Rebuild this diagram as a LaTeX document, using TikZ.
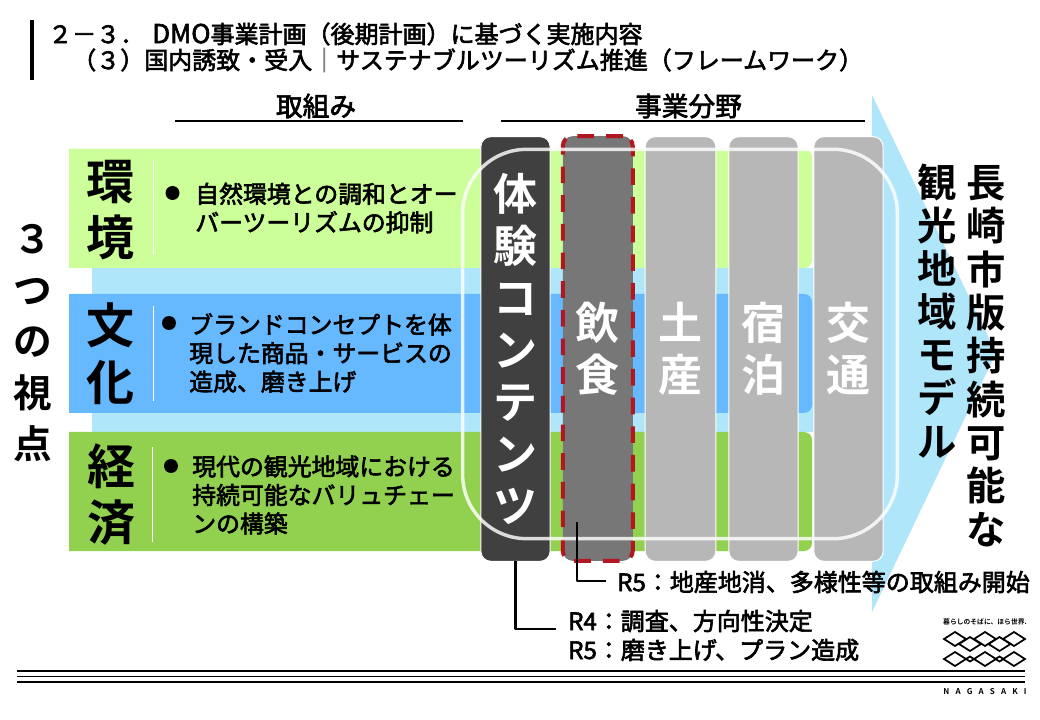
\documentclass[tikz,border=0pt]{standalone}
\usepackage{fontspec}
\setmainfont{Noto Sans CJK JP}[BoldFont={Noto Sans CJK JP Bold}]
\newfontfamily\jpm{Noto Sans CJK JP}[FakeBold=2.5]
\newfontfamily\jpb{Noto Sans CJK JP Bold}
\newcommand{\fsz}[2]{\fontsize{#1pt}{#2pt}\selectfont}
\definecolor{lgreen}{HTML}{CCFF99}
\definecolor{mgreen}{HTML}{92D050}
\definecolor{mblue}{HTML}{66B8FF}
\definecolor{lblue}{HTML}{AFE6FA}
\definecolor{dgray}{HTML}{404040}
\definecolor{mgray}{HTML}{777777}
\definecolor{lgray}{HTML}{B7B7B7}
\definecolor{dred}{HTML}{B2161E}
\tikzset{
  barbox/.style={rectangle,rounded corners=7.5pt,draw=white,line width=.8pt,fill=lgray,minimum height=318.5pt,inner sep=0pt,outer sep=0pt,text=white,align=center,font=\jpb\fsz{33}{39}},
  heading/.style={font=\jpm\fsz{20}{24},inner sep=0pt},
  themebox/.style={font=\jpb\fsz{36}{42.5},align=center,inner sep=0pt},
  bodytext/.style={font=\jpm\fsz{17.9}{21.4},align=left,anchor=west,inner sep=0pt},
  calltext/.style={font=\jpm\fsz{18}{21.7},align=left,anchor=west,inner sep=0pt},
  bulletdot/.style={circle,fill=black,minimum size=10.5pt,inner sep=0pt},
  sepline/.style={white,line width=.6pt},
  rule/.style={black,line width=.9pt},
  leader/.style={black,line width=2.1pt,line join=round},
  logoline/.style={black,line width=1.3pt,line join=miter}
}
\begin{document}
\begin{tikzpicture}[x=0.75pt,y=-0.75pt]
\useasboundingbox (0,0) rectangle (1040,720);
\fill[white] (0,0) rectangle (1040,720);
% title
\fill[black] (30,20) rectangle (34,80);
\node[anchor=west,inner sep=0pt,font=\jpm\fsz{18}{21}] (t1) at (48,34) {２－３．\hspace{6pt}{\fontsize{19.5pt}{21pt}\selectfont DMO}事業計画（後期計画）に基づく実施内容};
\node[anchor=west,inner sep=0pt,font=\jpm\fsz{18}{21}] (t2) at (72,60) {（３）国内誘致・受入{\color{gray}｜}サステナブルツーリズム推進（フレームワーク）};
% headings
\node[heading] (h1) at (316,106) {取組み};
\node[heading] (h2) at (688.5,106) {事業分野};
\draw[rule] (175,121) -- (463,121);
\draw[rule] (501,121) -- (865,121);
% big arrow
\fill[lblue] (92,268) -- (872,268) -- (872,95) -- (996,353) -- (872,612) -- (872,432) -- (92,432) -- cycle;
% bands
\fill[lgreen] (69,149) [rounded corners=6pt] -- (812,149) -- (812,268) [sharp corners] -- (69,268) -- cycle;
\fill[mblue] (69,294) [rounded corners=6pt] -- (812,294) -- (812,413) [sharp corners] -- (69,413) -- cycle;
\fill[mgreen] (69,432) [rounded corners=6pt] -- (812,432) -- (812,551) [sharp corners] -- (69,551) -- cycle;
\draw[sepline] (153.5,160) -- (153.5,255);
\draw[sepline] (153,306) -- (153,401);
\draw[sepline] (152.6,447) -- (152.6,542);
% bars
\node[barbox,fill=dgray,minimum width=52pt] (taiken) at (515.5,349) {体\\験\\コ\\ン\\テ\\ン\\ツ};
\node[barbox,fill=mgray,draw=dred,line width=3pt,dash pattern=on 12.5pt off 9pt,minimum width=52.5pt] (inshoku) at (597.75,348.5) {飲\\食};
\node[barbox,minimum width=53pt] (miyage) at (680.5,349) {土\\産};
\node[barbox,minimum width=52pt] (shuku) at (763.5,349) {宿\\泊};
\node[barbox,minimum width=52pt] (kotsu) at (848.5,349) {交\\通};
% frame
\node[rectangle,rounded corners=48pt,draw=white,draw opacity=.82,line width=2.6pt,minimum width=326pt,minimum height=292pt,inner sep=0pt] (frame) at (680,344) {};
% theme labels
\node[themebox] (kankyo) at (110,210) {環\\境};
\node[themebox] (bunka) at (110,353.5) {文\\化};
\node[themebox] (keizai) at (111,494.5) {経\\済};
\node[bulletdot] (b1) at (172.5,193) {};
\node[bulletdot] (b2) at (169,323) {};
\node[bulletdot] (b3) at (171,466) {};
\node[bodytext] (x1) at (195,208) {自然環境との調和とオー\\バーツーリズムの抑制};
\node[bodytext] (x2) at (189,353) {ブランドコンセプトを体\\現した商品・サービスの\\造成、磨き上げ};
\node[bodytext] (x3) at (192,495) {現代の観光地域における\\持続可能なバリュチェー\\ンの構築};
% left label
\node[inner sep=0pt,align=center,font=\jpb\fsz{29}{38.5}] (three) at (33,343) {３\\つ\\の\\視\\点};
% right labels
\node[inner sep=0pt,align=center,font=\jpb\fsz{29.5}{32.3}] (m1) at (937,311) {観\\光\\地\\域\\モ\\デ\\ル};
\node[inner sep=0pt,align=center,font=\jpb\fsz{29.5}{32.5}] (m2) at (986,356) {長\\崎\\市\\版\\持\\続\\可\\能\\な};
% callouts
\node[calltext] (r5a) at (617,582) {R5：地産地消、多様性等の取組み開始};
\node[calltext] (r45) at (568,635.5) {R4：調査、方向性決定\\R5：磨き上げ、プラン造成};
\coordinate (s1) at (577,522);
\coordinate (e1) at (606,581);
\coordinate (e2) at (556,629);
\draw[leader] (s1) |- (e1);
\draw[leader] (taiken.south) |- (e2);
% logo
\node[inner sep=0pt,font=\jpb\fsz{5.1}{6}] (lt) at (985,622) {暮らしのそばに、ほら世界.};
\foreach \c in {955,985,1014}{
  \draw[logoline] (\c-11,639) -- (\c,632) -- (\c+11,639) -- (\c,646) -- cycle;
  \draw[logoline] (\c-11,659) -- (\c,652) -- (\c+11,659) -- (\c,666) -- cycle;
}
\foreach \c in {970,999.5}{
  \draw[logoline] (\c-11,644) -- (\c,637) -- (\c+11,644) -- (\c,651) -- cycle;
  \draw[logoline] (\c-4,659) -- (\c,656.5) -- (\c+4,659) -- (\c,661.5) -- cycle;
}
\draw[black,line width=1.4pt] (17,671) -- (1025,671);
\draw[black,line width=1.4pt] (17,676.5) -- (1025,676.5);
\draw[black,line width=1.4pt] (17,682) -- (1025,682);
\node[inner sep=0pt,font=\jpb\fsz{6}{7}] (nag) at (985,692) {N\hspace{4.6pt}A\hspace{4.6pt}G\hspace{4.6pt}A\hspace{4.6pt}S\hspace{4.6pt}A\hspace{4.6pt}K\hspace{4.6pt}I};
\end{tikzpicture}
\end{document}
